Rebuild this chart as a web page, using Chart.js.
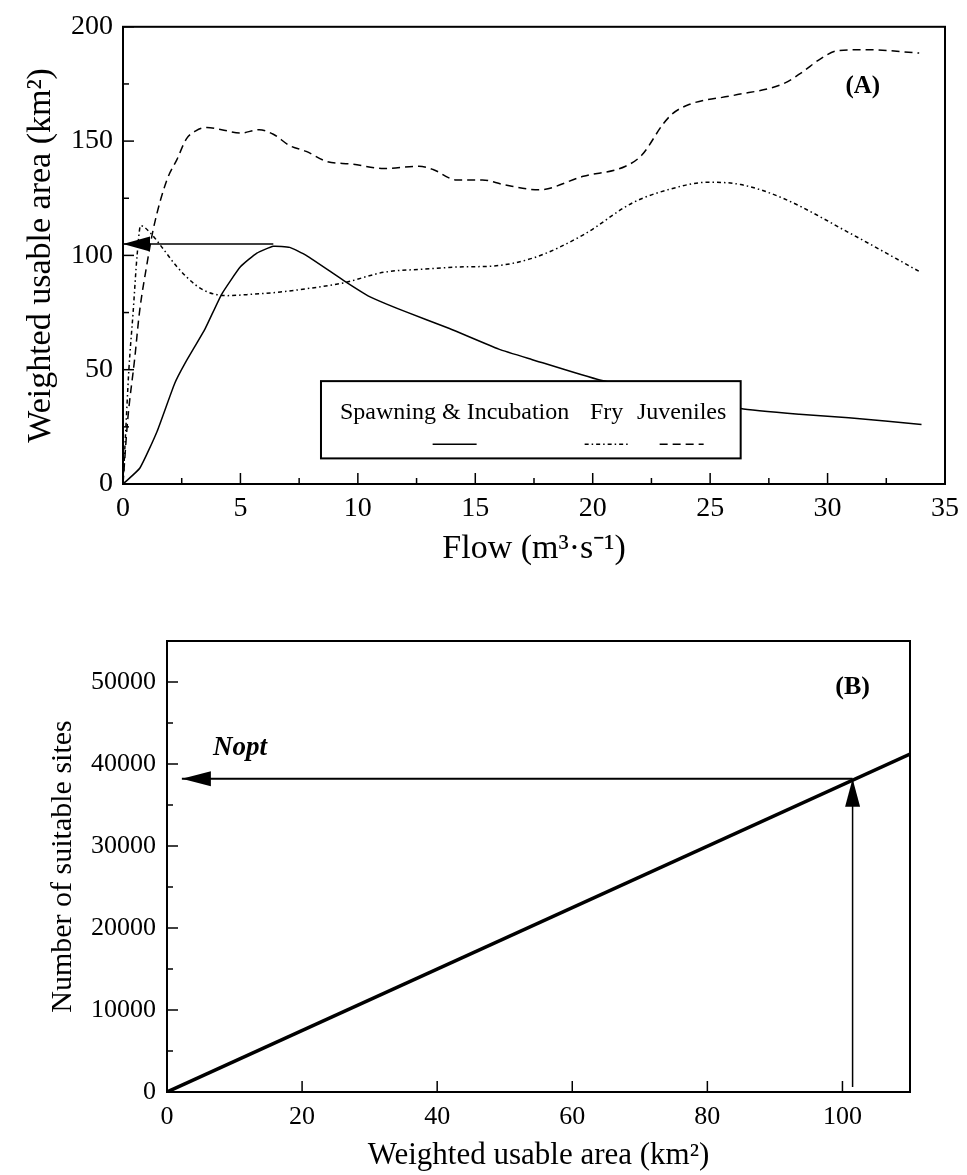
<!DOCTYPE html>
<html>
<head>
<meta charset="utf-8">
<script src="https://cdn.jsdelivr.net/npm/chart.js@4.4.1/dist/chart.umd.min.js"></script>
<style>
  body { margin: 0; background: #fff; }
  canvas { position: absolute; left: 0; }
  #chartA { top: 0; }
  #chartB { top: 590px; }
</style>
</head>
<body>
<canvas id="chartA" width="967" height="590"></canvas>
<canvas id="chartB" width="967" height="585"></canvas>
<script>
// (A) flow vs weighted usable area
var spawnFlow = [0, 0.72, 1.45, 2.2, 2.65, 3.5, 4.2, 5.0, 5.7, 6.4, 7.1, 7.8, 9.4, 10.5, 12.0, 13.9, 16.0, 17.4, 20.3, 26.3, 28.8, 30.9, 34.0];
var spawnWua  = [0, 7, 23, 44, 53, 68, 83, 95, 101, 104, 103.5, 100, 89, 82, 75.5, 68, 59, 54.5, 45.5, 33, 30.5, 29, 26];
var fryFlow = [0, 0.1, 0.25, 0.43, 0.6, 0.75, 1.15, 1.7, 2.3, 3.1, 3.6, 4.4, 5.5, 6.7, 7.8, 9.4, 11.1, 12.8, 14.5, 15.7, 17.5, 19.6, 21.7, 23.3, 24.9, 26.3, 28.1, 30.9, 33.9];
var fryWua  = [0, 20, 50, 75, 100, 113, 110, 103, 95, 87, 84, 82.4, 83, 84, 85.4, 88, 92.6, 94, 95, 95.3, 99, 109, 123, 129, 132, 131, 125, 110, 93];
var juvFlow = [0, 0.2, 0.5, 0.7, 1.0, 1.3, 1.87, 2.3, 2.7, 3.1, 3.57, 4.2, 5.0, 5.8, 6.4, 7.1, 7.8, 8.7, 9.7, 11.1, 12.6, 13.2, 14.2, 15.3, 16.2, 17.7, 19.6, 21.4, 22.1, 23.0, 23.4, 24.1, 26.0, 28.1, 28.9, 29.7, 30.4, 31.7, 33.9];
var juvWua  = [0, 28, 55, 75, 95, 112, 133, 142, 151, 154.5, 156, 155, 153.5, 155, 153, 148, 145.5, 141, 140, 138, 139, 137.6, 133, 133, 131, 128.7, 134.6, 139, 144, 157.5, 162, 166, 170, 175, 180, 186, 189.5, 190, 188.5];
var arrowAFlow = [6.4, 0];
var arrowAWua  = [105, 105];
var legendLabelsA = ['Spawning & Incubation', 'Fry', 'Juveniles'];
var xTicksA = [0, 5, 10, 15, 20, 25, 30, 35];
var yTicksA = [0, 50, 100, 150, 200];

// (B) weighted usable area vs number of suitable sites
var wuaB   = [0, 110];
var sitesB = [0, 41200];
var vArrowWua   = [101.5, 101.5];
var vArrowSites = [600, 38200];
var hArrowWua   = [101.5, 2.2];
var hArrowSites = [38200, 38200];
var xTicksB = [0, 20, 40, 60, 80, 100];
var yTicksB = [0, 10000, 20000, 30000, 40000, 50000];

var SERIF = "'Liberation Serif', 'Times New Roman', serif";

toPoints = function (xs, ys) {
  return xs.map(function (x, i) { return {x: x, y: ys[i]}; });
};

// 枠と内向きの目盛り
var frameTicks = {
  id: 'frameTicks',
  afterDatasetsDraw: function (chart, args, opts) {
    var ctx = chart.ctx, a = chart.chartArea;
    var xs = chart.scales.x, ys = chart.scales.y;
    ctx.save();
    ctx.strokeStyle = '#000';
    ctx.lineWidth = 1.5;
    var xStep = opts.xMinorStep, yStep = opts.yMinorStep;
    for (var v = xs.min; v <= xs.max + 1e-9; v += xStep) {
      var major = Math.abs(v / opts.xMajorStep - Math.round(v / opts.xMajorStep)) < 1e-6;
      if (!major && !opts.xMinor) continue;
      var px = xs.getPixelForValue(v);
      ctx.beginPath();
      ctx.moveTo(px, a.bottom);
      ctx.lineTo(px, a.bottom - (major ? 11 : 6));
      ctx.stroke();
    }
    for (var w = ys.min; w <= ys.max + 1e-9; w += yStep) {
      var majorY = Math.abs(w / opts.yMajorStep - Math.round(w / opts.yMajorStep)) < 1e-6;
      var py = ys.getPixelForValue(w);
      ctx.beginPath();
      ctx.moveTo(a.left, py);
      ctx.lineTo(a.left + (majorY ? 11 : 6), py);
      ctx.stroke();
    }
    ctx.lineWidth = 2;
    ctx.strokeRect(a.left, a.top, a.right - a.left, a.bottom - a.top);
    ctx.restore();
  }
};

// 矢印の先端
var arrowHeads = {
  id: 'arrowHeads',
  afterDatasetsDraw: function (chart) {
    var ctx = chart.ctx;
    chart.data.datasets.forEach(function (ds, i) {
      if (!ds.arrowHead) return;
      var pts = chart.getDatasetMeta(i).data;
      var tip = pts[pts.length - 1], prev = pts[pts.length - 2];
      var ang = Math.atan2(tip.y - prev.y, tip.x - prev.x);
      var L = ds.arrowHead[0], W = ds.arrowHead[1];
      ctx.save();
      ctx.fillStyle = '#000';
      ctx.translate(tip.x, tip.y);
      ctx.rotate(ang);
      ctx.beginPath();
      ctx.moveTo(0, 0);
      ctx.lineTo(-L, -W / 2);
      ctx.lineTo(-L, W / 2);
      ctx.closePath();
      ctx.fill();
      ctx.restore();
    });
  }
};

// 図中の文字
var noteText = {
  id: 'noteText',
  afterDatasetsDraw: function (chart, args, opts) {
    var ctx = chart.ctx;
    ctx.save();
    ctx.fillStyle = '#000';
    ctx.textBaseline = 'middle';
    (opts.items || []).forEach(function (it) {
      ctx.font = it.font;
      ctx.textAlign = it.align || 'center';
      ctx.fillText(it.text, chart.scales.x.getPixelForValue(it.x), chart.scales.y.getPixelForValue(it.y));
    });
    ctx.restore();
  }
};

// 凡例（箱の中に文字と線見本）
var boxLegend = {
  id: 'boxLegend',
  afterDatasetsDraw: function (chart, args, opts) {
    if (!opts.display) return;
    var ctx = chart.ctx, xs = chart.scales.x, ys = chart.scales.y;
    var l = xs.getPixelForValue(opts.box[0]), r = xs.getPixelForValue(opts.box[1]);
    var t = ys.getPixelForValue(opts.box[2]), b = ys.getPixelForValue(opts.box[3]);
    ctx.save();
    ctx.fillStyle = '#fff';
    ctx.fillRect(l, t, r - l, b - t);
    ctx.strokeStyle = '#000';
    ctx.lineWidth = 2;
    ctx.strokeRect(l, t, r - l, b - t);
    ctx.font = '24px ' + SERIF;
    ctx.fillStyle = '#000';
    ctx.textBaseline = 'middle';
    ctx.textAlign = 'left';
    var ds = chart.data.datasets;
    opts.offsets.forEach(function (off, i) {
      var label = legendLabelsA[i];
      var tx = l + off;
      ctx.fillText(label, tx, t + 32);
      var cx = tx + ctx.measureText(label).width / 2;
      ctx.save();
      ctx.lineWidth = 1.5;
      ctx.setLineDash(ds[i].borderDash || []);
      ctx.beginPath();
      ctx.moveTo(cx - 22, t + 63);
      ctx.lineTo(cx + 22, t + 63);
      ctx.stroke();
      ctx.restore();
    });
    ctx.restore();
  }
};

var lineStyle = function (dash) {
  return {borderColor: '#000', borderWidth: 1.5, borderDash: dash, pointRadius: 0, fill: false};
};

// グラフ(A)
new Chart(document.getElementById('chartA').getContext('2d'), {
  type: 'line',
  data: {
    datasets: [
      Object.assign({label: legendLabelsA[0], data: toPoints(spawnFlow, spawnWua), tension: 0.15}, lineStyle([])),
      Object.assign({label: legendLabelsA[1], data: toPoints(fryFlow, fryWua), cubicInterpolationMode: 'monotone'}, lineStyle([4, 3, 1.5, 3])),
      Object.assign({label: legendLabelsA[2], data: toPoints(juvFlow, juvWua), cubicInterpolationMode: 'monotone'}, lineStyle([8, 5])),
      {label: 'arrow', data: toPoints(arrowAFlow, arrowAWua), borderColor: '#000', borderWidth: 1.5, pointRadius: 0, arrowHead: [27, 15]}
    ]
  },
  options: {
    responsive: false,
    animation: false,
    layout: {padding: {top: 18, right: 22, left: 0, bottom: 0}},
    plugins: {
      legend: {display: false},
      tooltip: {enabled: false},
      frameTicks: {xMajorStep: 5, xMinorStep: 2.5, yMajorStep: 50, yMinorStep: 25, xMinor: true},
      noteText: {items: [{text: '(A)', x: 31.5, y: 174, font: 'bold 25px ' + SERIF}]},
      boxLegend: {display: true, box: [8.43, 26.3, 45, 11.2], offsets: [19, 269, 316]}
    },
    scales: {
      x: {
        type: 'linear', min: 0, max: 35,
        grid: {display: false, drawTicks: false}, border: {display: false},
        afterFit: function (s) { s.height = 106; },
        afterBuildTicks: function (s) { s.ticks = xTicksA.map(function (v) { return {value: v}; }); },
        ticks: {padding: 8, color: '#000', font: {family: SERIF, size: 28}, maxRotation: 0, autoSkip: false,
                callback: function (v) { return String(v); }},
        title: {display: true, text: 'Flow (m³·s⁻¹)', color: '#000', font: {family: SERIF, size: 34}, padding: {bottom: 21}}
      },
      y: {
        type: 'linear', min: 0, max: 200,
        grid: {display: false, drawTicks: false}, border: {display: false},
        afterFit: function (s) { s.width = 123; },
        afterBuildTicks: function (s) { s.ticks = yTicksA.map(function (v) { return {value: v}; }); },
        ticks: {padding: 10, color: '#000', font: {family: SERIF, size: 28}, autoSkip: false,
                callback: function (v) { return String(v); }},
        title: {display: true, text: 'Weighted usable area (km²)', color: '#000', font: {family: SERIF, size: 34}, padding: {top: 21}}
      }
    }
  },
  plugins: [frameTicks, arrowHeads, boxLegend, noteText]
});

// グラフ(B)
new Chart(document.getElementById('chartB').getContext('2d'), {
  type: 'line',
  data: {
    datasets: [
      {label: 'sites', data: toPoints(wuaB, sitesB), borderColor: '#000', borderWidth: 3.5, pointRadius: 0},
      {label: 'v', data: toPoints(vArrowWua, vArrowSites), borderColor: '#000', borderWidth: 1.5, pointRadius: 0, arrowHead: [28, 15]},
      {label: 'h', data: toPoints(hArrowWua, hArrowSites), borderColor: '#000', borderWidth: 2, pointRadius: 0, arrowHead: [29, 15]}
    ]
  },
  options: {
    responsive: false,
    animation: false,
    layout: {padding: {top: 51, right: 57, left: 0, bottom: 0}},
    plugins: {
      legend: {display: false},
      tooltip: {enabled: false},
      frameTicks: {xMajorStep: 20, xMinorStep: 20, yMajorStep: 10000, yMinorStep: 5000, xMinor: false},
      noteText: {items: [
        {text: '(B)', x: 101.5, y: 49300, font: 'bold 26px ' + SERIF},
        {text: 'Nopt', x: 6.8, y: 42000, font: 'italic bold 27px ' + SERIF, align: 'left'}
      ]},
      boxLegend: {display: false}
    },
    scales: {
      x: {
        type: 'linear', min: 0, max: 110,
        grid: {display: false, drawTicks: false}, border: {display: false},
        afterFit: function (s) { s.height = 83; },
        afterBuildTicks: function (s) { s.ticks = xTicksB.map(function (v) { return {value: v}; }); },
        ticks: {padding: 10, color: '#000', font: {family: SERIF, size: 26}, maxRotation: 0, autoSkip: false,
                callback: function (v) { return String(v); }},
        title: {display: true, text: 'Weighted usable area (km²)', color: '#000', font: {family: SERIF, size: 31}, padding: {bottom: 1}}
      },
      y: {
        type: 'linear', min: 0, max: 55000,
        grid: {display: false, drawTicks: false}, border: {display: false},
        afterFit: function (s) { s.width = 167; },
        afterBuildTicks: function (s) { s.ticks = yTicksB.map(function (v) { return {value: v}; }); },
        ticks: {padding: 11, color: '#000', font: {family: SERIF, size: 26}, autoSkip: false,
                callback: function (v) { return String(v); }},
        title: {display: true, text: 'Number of suitable sites', color: '#000', font: {family: SERIF, size: 30}, padding: {top: 45}}
      }
    }
  },
  plugins: [frameTicks, arrowHeads, noteText]
});
</script>
</body>
</html>
